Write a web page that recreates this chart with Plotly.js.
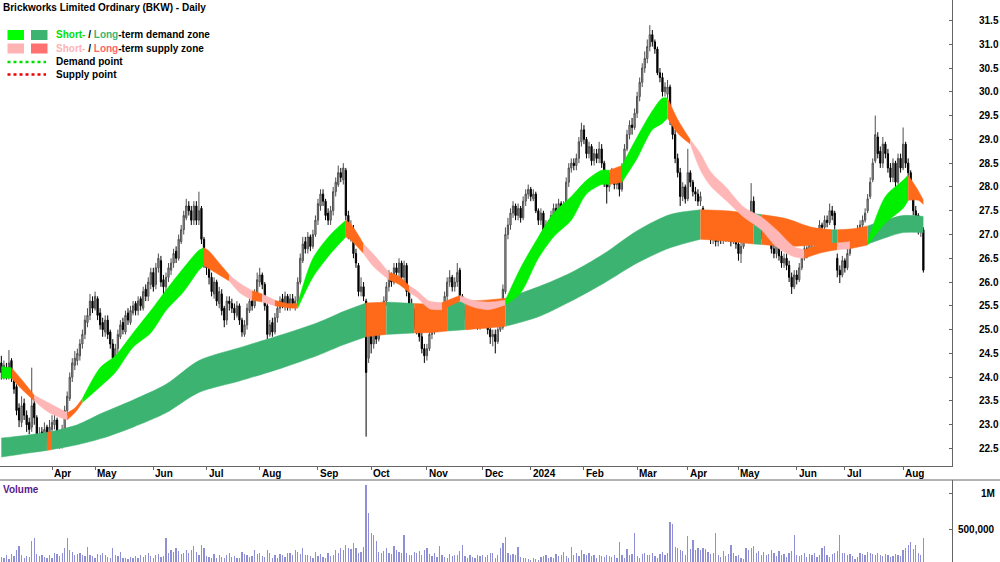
<!DOCTYPE html>
<html><head><meta charset="utf-8">
<script src="https://cdn.plot.ly/plotly-3.0.1.min.js"></script>
<style>html,body{margin:0;padding:0;background:#fff}#chart{width:1000px;height:562px}</style>
</head><body><div id="chart"></div>
<script>
const chartTitle = 'Brickworks Limited Ordinary (BKW) - Daily';
// month labels and the trading-day index of the first session of each month
const monthLabels = ['Apr','May','Jun','Jul','Aug','Sep','Oct','Nov','Dec','2024','Feb','Mar','Apr','May','Jun','Jul','Aug'];
const monthIdx = [20,37,60,81,102,125,146,168,190,209,230,251,271,291,314,333,356];
const priceTicks = [22.5,23.0,23.5,24.0,24.5,25.0,25.5,26.0,26.5,27.0,27.5,28.0,28.5,29.0,29.5,30.0,30.5,31.0,31.5];
const volumeTicks = [500000, 1000000];
const volumeTickText = ['500,000', '1M'];

const open = [
24.30,24.05,24.20,24.05,24.35,24.00,23.80,23.35,23.05,23.45,
23.20,23.05,22.95,23.45,23.15,22.65,22.85,22.60,22.95,22.70,
22.90,23.00,23.10,22.75,22.55,22.90,23.30,23.55,24.00,24.25,
24.35,24.45,24.70,24.90,25.15,25.30,25.60,25.45,25.65,25.35,
25.15,24.95,25.20,24.95,24.70,24.35,24.60,24.85,25.15,24.95,
25.35,25.15,25.35,25.55,25.40,25.65,25.45,25.85,25.70,25.95,
26.20,25.95,26.30,26.45,26.05,25.90,26.10,26.25,26.40,26.65,
26.50,26.85,27.10,27.35,27.60,27.50,27.30,27.60,27.30,27.55,
26.90,26.45,26.30,26.10,25.75,26.00,25.55,25.75,25.45,25.20,
25.60,25.55,25.45,25.30,25.50,25.20,24.90,25.10,25.40,25.60,
25.50,25.75,26.00,26.15,25.95,25.50,24.90,25.15,24.95,25.25,
25.45,25.65,25.50,25.70,25.50,25.65,25.50,25.60,26.00,26.45,
26.85,26.70,26.95,26.75,27.00,27.30,27.60,27.85,27.70,27.45,
27.30,27.50,27.90,28.05,28.30,28.15,28.35,27.40,26.95,27.10,
26.60,26.35,25.80,25.90,25.60,24.40,25.00,24.70,25.10,24.80,
25.20,25.40,25.60,25.90,26.10,26.00,26.30,26.20,26.40,26.10,
26.35,25.80,25.50,25.40,25.10,25.00,24.85,24.60,24.45,24.60,
24.90,25.00,25.20,25.30,25.10,25.40,25.70,26.00,26.10,25.90,
26.00,26.25,25.70,25.30,25.40,25.10,25.30,25.20,25.35,25.10,
25.25,25.40,25.20,25.00,24.85,24.90,24.75,25.00,25.05,25.80,
27.00,27.20,27.45,27.60,27.40,27.55,27.35,27.70,27.85,27.95,
27.75,27.85,27.50,27.30,27.45,27.00,27.20,27.10,27.40,27.55,
27.45,27.65,27.50,27.65,28.10,28.40,28.50,28.45,28.60,28.95,
29.20,29.00,28.70,28.85,28.55,28.70,28.60,28.80,28.50,28.10,
28.00,28.20,28.30,28.05,28.20,27.95,28.40,28.80,29.10,29.30,
29.25,29.55,29.90,30.20,30.50,30.70,30.95,31.20,31.05,30.90,
30.40,30.30,30.00,29.95,30.10,29.40,29.10,28.60,28.30,27.80,
28.00,27.75,28.30,28.10,27.90,27.85,27.70,27.55,27.15,27.00,
27.10,26.90,27.05,26.85,27.00,26.90,27.10,26.95,27.00,26.85,
27.05,26.80,26.60,26.75,26.95,27.10,27.40,27.70,27.30,27.10,
27.20,27.00,27.15,26.95,26.90,26.70,26.60,26.80,26.55,26.40,
26.50,26.35,26.10,25.90,26.15,26.05,26.30,26.50,26.70,26.60,
26.85,26.80,26.95,27.00,27.20,27.15,27.30,27.25,27.50,27.45,
26.50,26.25,26.15,26.45,26.30,26.60,26.85,27.00,26.95,27.10,
27.20,27.30,27.50,27.80,28.15,28.55,29.05,28.75,28.50,28.90,
28.70,28.40,28.20,28.50,28.10,28.60,28.40,28.90,28.50,28.30,
27.90,27.50,27.40,27.05,27.10];
const high = [
24.45,24.35,24.30,24.57,24.40,24.10,23.85,23.45,23.60,23.55,
23.30,23.15,24.20,23.55,23.20,22.95,22.95,23.05,23.00,23.10,
23.20,23.25,23.15,22.85,23.00,23.40,23.70,24.10,24.40,24.55,
24.60,24.80,25.00,25.30,25.45,25.75,25.70,25.80,25.70,25.45,
25.25,25.30,25.30,25.00,24.80,24.70,25.00,25.20,25.25,25.40,
25.45,25.50,25.60,25.60,25.70,25.70,25.90,25.95,26.10,26.30,
26.30,26.40,26.60,26.55,26.15,26.20,26.40,26.50,26.70,26.75,
27.00,27.20,27.50,27.75,27.70,27.60,27.70,27.70,27.90,27.60,
26.95,26.55,26.40,26.20,26.10,26.05,25.90,25.85,25.50,25.70,
25.70,25.65,25.55,25.60,25.55,25.25,25.20,25.55,25.70,25.70,
25.85,26.20,26.30,26.20,26.00,25.55,25.20,25.25,25.35,25.55,
25.70,25.75,25.80,25.75,25.75,25.75,25.70,26.10,26.60,26.95,
26.95,27.05,27.00,27.10,27.40,27.75,27.95,27.95,27.75,27.55,
27.60,28.00,28.20,28.45,28.40,28.50,28.40,27.50,27.30,27.20,
26.70,26.40,26.10,26.00,25.65,25.20,25.30,25.30,25.20,25.30,
25.50,25.70,26.00,26.25,26.20,26.40,26.40,26.50,26.45,26.45,
26.40,25.85,25.65,25.45,25.20,25.10,24.95,24.70,24.70,25.00,
25.10,25.30,25.40,25.35,25.50,25.80,26.10,26.25,26.15,26.10,
26.40,26.30,25.75,25.50,25.45,25.40,25.40,25.45,25.40,25.35,
25.50,25.45,25.30,25.10,25.00,25.00,25.10,25.40,25.95,27.15,
27.35,27.55,27.70,27.65,27.65,27.60,27.80,27.95,28.05,28.00,
27.95,27.90,27.55,27.55,27.50,27.30,27.30,27.50,27.65,27.65,
27.75,27.70,27.70,28.20,28.50,28.60,28.60,28.70,29.05,29.35,
29.30,29.05,28.95,28.90,28.80,28.80,28.95,28.90,28.55,28.20,
28.30,28.40,28.35,28.30,28.25,28.50,28.90,29.20,29.40,29.45,
29.65,30.00,30.30,30.60,30.85,31.10,31.40,31.30,31.10,30.95,
30.50,30.40,30.20,30.25,30.15,29.50,29.20,28.70,28.40,28.10,
28.05,28.80,28.35,28.15,28.00,27.95,27.90,27.60,27.25,27.20,
27.20,27.15,27.10,27.10,27.05,27.20,27.15,27.10,27.05,27.15,
27.10,26.90,26.85,27.05,27.20,27.50,28.08,27.80,27.40,27.30,
27.30,27.25,27.20,27.05,26.95,26.80,26.90,26.85,26.65,26.60,
26.60,26.45,26.20,26.25,26.25,26.40,26.60,26.80,26.75,26.95,
26.95,27.05,27.10,27.30,27.25,27.40,27.40,27.65,27.60,27.50,
26.60,26.35,26.55,26.50,26.70,26.95,27.05,27.10,27.20,27.30,
27.40,27.55,27.85,28.20,28.60,29.50,29.15,28.85,29.05,28.95,
28.80,28.50,28.60,28.55,28.70,28.70,29.25,28.95,28.60,28.35,
27.95,27.60,27.45,27.25,27.15];
const low = [
23.95,23.95,23.95,23.95,23.90,23.65,23.20,22.95,22.95,23.10,
22.85,22.80,22.85,23.00,22.60,22.55,22.50,22.55,22.60,22.60,
22.80,22.90,22.60,22.50,22.50,22.85,23.20,23.50,23.90,24.15,
24.25,24.35,24.60,24.80,25.05,25.20,25.35,25.40,25.20,25.00,
24.85,24.85,24.80,24.60,24.30,24.30,24.50,24.80,24.90,24.90,
25.10,25.10,25.30,25.30,25.30,25.40,25.40,25.60,25.60,25.85,
25.80,25.85,26.20,25.90,25.75,25.80,26.00,26.15,26.30,26.40,
26.45,26.80,27.00,27.30,27.40,27.20,27.20,27.20,27.20,26.80,
26.30,26.15,25.95,25.70,25.65,25.50,25.45,25.30,25.05,25.10,
25.40,25.35,25.20,25.25,25.10,24.85,24.85,25.00,25.35,25.40,
25.45,25.70,25.90,25.85,25.40,24.80,24.85,24.85,24.90,25.15,
25.35,25.45,25.40,25.40,25.40,25.45,25.40,25.50,25.95,26.40,
26.60,26.60,26.65,26.70,26.95,27.20,27.50,27.60,27.30,27.20,
27.20,27.40,27.80,28.00,28.10,28.05,27.30,26.90,26.85,26.50,
26.30,25.70,25.70,25.60,22.75,24.30,24.50,24.60,24.70,24.75,
25.10,25.30,25.50,25.80,25.90,25.95,26.10,26.10,26.00,26.00,
25.70,25.40,25.30,25.00,24.90,24.75,24.50,24.30,24.35,24.55,
24.80,24.90,25.10,25.00,25.05,25.35,25.60,25.90,25.80,25.80,
25.90,25.60,25.20,25.20,25.00,25.00,25.10,25.10,25.00,25.00,
25.15,25.10,24.90,24.70,24.65,24.50,24.70,24.95,25.00,25.75,
26.90,27.10,27.35,27.30,27.30,27.25,27.30,27.60,27.75,27.70,
27.70,27.45,27.20,27.20,26.85,26.95,27.00,27.05,27.35,27.35,
27.40,27.40,27.40,27.60,28.00,28.30,28.35,28.35,28.50,28.85,
28.90,28.60,28.60,28.45,28.45,28.50,28.50,28.40,28.00,27.65,
27.90,28.10,27.95,27.95,27.80,27.90,28.35,28.75,29.00,29.10,
29.20,29.45,29.80,30.10,30.40,30.60,30.85,30.95,30.80,30.35,
30.20,29.90,29.90,29.85,29.30,29.00,28.50,28.20,27.60,27.70,
27.65,27.70,28.00,27.80,27.70,27.60,27.60,27.05,26.90,26.90,
26.80,26.80,26.75,26.75,26.80,26.80,26.85,26.85,26.75,26.80,
26.70,26.45,26.40,26.70,26.90,27.05,27.30,27.20,27.00,27.00,
26.90,26.95,26.85,26.80,26.60,26.50,26.50,26.45,26.30,26.30,
26.25,26.00,25.75,25.85,25.95,26.00,26.25,26.45,26.50,26.55,
26.70,26.70,26.85,26.95,27.05,27.05,27.15,27.20,27.30,27.10,
26.10,25.98,26.10,26.20,26.25,26.55,26.80,26.85,26.90,27.00,
27.10,27.25,27.45,27.75,28.10,28.50,28.60,28.40,28.40,28.60,
28.30,28.10,28.10,28.00,28.05,28.30,28.35,28.40,28.20,27.80,
27.40,27.20,27.00,26.95,26.20];
const close = [
24.10,24.25,24.05,24.30,24.00,23.75,23.30,23.10,23.40,23.20,
23.00,22.90,23.40,23.15,22.70,22.80,22.60,22.90,22.75,22.95,
23.05,23.10,22.70,22.60,22.90,23.30,23.60,24.00,24.30,24.40,
24.50,24.70,24.90,25.20,25.30,25.60,25.45,25.70,25.30,25.10,
25.00,25.20,24.90,24.70,24.40,24.60,24.90,25.10,25.00,25.30,
25.20,25.40,25.50,25.40,25.60,25.50,25.80,25.70,26.00,26.20,
25.90,26.30,26.50,26.00,25.90,26.10,26.30,26.40,26.60,26.50,
26.90,27.10,27.40,27.60,27.50,27.30,27.60,27.30,27.50,26.90,
26.40,26.30,26.10,25.80,26.00,25.60,25.80,25.40,25.20,25.60,
25.55,25.45,25.35,25.50,25.20,24.95,25.10,25.45,25.60,25.50,
25.75,26.05,26.15,25.95,25.50,24.90,25.10,24.95,25.25,25.45,
25.60,25.55,25.70,25.50,25.65,25.55,25.60,26.00,26.50,26.80,
26.70,26.95,26.75,27.00,27.30,27.65,27.85,27.70,27.40,27.30,
27.50,27.90,28.10,28.30,28.20,28.40,27.40,27.00,27.10,26.60,
26.40,25.80,25.90,25.70,24.10,25.00,24.70,25.10,24.80,25.20,
25.40,25.60,25.90,26.10,26.00,26.30,26.20,26.40,26.10,26.35,
25.80,25.50,25.40,25.10,25.00,24.85,24.60,24.45,24.60,24.90,
25.00,25.20,25.30,25.10,25.40,25.70,26.00,26.10,25.90,26.00,
26.20,25.70,25.30,25.40,25.10,25.30,25.20,25.35,25.10,25.25,
25.40,25.20,25.00,24.85,24.90,24.75,25.00,25.30,25.85,27.00,
27.20,27.45,27.60,27.40,27.55,27.35,27.70,27.85,27.95,27.80,
27.85,27.50,27.30,27.45,27.00,27.20,27.10,27.40,27.55,27.45,
27.65,27.50,27.60,28.10,28.40,28.50,28.45,28.60,28.95,29.20,
29.00,28.70,28.85,28.55,28.70,28.60,28.80,28.50,28.10,28.00,
28.20,28.30,28.05,28.20,27.95,28.40,28.80,29.10,29.30,29.25,
29.55,29.90,30.20,30.50,30.70,30.95,31.20,31.05,30.90,30.40,
30.30,30.00,30.10,30.10,29.40,29.10,28.60,28.30,27.80,28.00,
27.75,28.30,28.10,27.90,27.85,27.70,27.80,27.15,27.00,27.10,
26.90,27.05,26.85,27.00,26.90,27.10,26.95,27.00,26.85,27.05,
26.80,26.60,26.75,26.95,27.10,27.40,27.70,27.30,27.10,27.20,
27.00,27.15,26.95,26.90,26.70,26.60,26.80,26.55,26.40,26.50,
26.35,26.10,25.90,26.15,26.05,26.30,26.50,26.70,26.60,26.85,
26.80,26.95,27.00,27.20,27.15,27.30,27.25,27.50,27.40,27.20,
26.25,26.15,26.45,26.30,26.60,26.85,27.00,26.95,27.10,27.20,
27.30,27.45,27.75,28.10,28.50,29.10,28.70,28.50,28.90,28.70,
28.40,28.20,28.50,28.10,28.60,28.40,28.90,28.50,28.30,27.90,
27.50,27.40,27.10,27.15,26.25];
// volume in thousands of shares
const volumeK = [
110,90,130,80,150,120,200,260,140,90,
120,110,330,370,150,120,140,110,90,130,
100,160,150,120,170,230,380,210,180,140,
150,160,130,120,250,140,120,90,150,130,
170,130,110,100,240,140,120,180,100,90,
80,110,100,120,90,130,110,140,160,120,
100,130,150,110,120,380,170,210,180,240,
190,150,170,200,160,210,260,180,140,280,
230,120,110,90,150,100,130,110,90,140,
170,110,120,100,90,180,150,130,110,120,
210,150,160,120,110,200,170,90,130,100,
150,140,110,170,160,140,210,180,150,230,
130,140,120,100,180,120,150,110,90,170,
120,140,200,160,230,200,280,240,220,310,
230,160,180,250,1120,720,440,410,330,180,
160,190,230,170,150,260,200,180,170,420,
160,140,130,180,170,190,140,200,230,150,
120,160,110,260,140,110,90,150,120,130,
130,190,280,120,100,140,110,90,130,120,
140,110,130,170,160,100,130,230,300,390,
160,140,150,130,250,110,90,100,80,70,
90,80,70,110,120,130,100,110,90,150,
120,140,180,120,100,250,130,170,120,200,
150,130,160,120,140,100,130,120,110,130,
120,110,130,100,320,140,100,220,130,150,
450,120,100,150,160,130,140,170,120,100,
150,180,130,160,600,570,250,230,210,190,
130,400,220,340,200,240,200,230,220,180,
150,160,450,130,110,190,120,150,270,170,
120,140,100,80,230,210,240,260,160,190,
140,180,130,150,200,160,120,190,130,150,
110,170,190,410,140,120,130,160,110,150,
130,170,110,130,240,260,140,110,150,170,
190,420,170,160,140,150,120,80,110,170,
150,140,180,170,150,130,160,140,120,150,
130,110,120,150,140,120,200,230,270,320,
220,280,170,130,370];

// long-term zone: points (trading-day index), band edges and state of the following stretch (D demand, S supply)
const ltIdx   = [0,10,18,20,30,40,52,65,78,94,110,125,135,144,152,163,170,176,183,191,199,212,225,238,251,264,276,286,297,300,310,320,328,330,336,342,350,356,364];
const ltUpper = [22.72,22.78,22.84,22.86,23.00,23.25,23.52,23.85,24.35,24.62,24.88,25.15,25.38,25.56,25.58,25.55,25.54,25.56,25.60,25.62,25.66,25.90,26.20,26.60,27.08,27.42,27.52,27.50,27.44,27.42,27.33,27.15,27.10,27.10,27.12,27.18,27.32,27.40,27.38];
const ltLower = [22.32,22.40,22.46,22.48,22.58,22.72,22.95,23.25,23.68,23.92,24.18,24.46,24.68,24.85,24.90,24.93,24.94,24.97,25.00,25.03,25.07,25.27,25.60,25.98,26.40,26.72,26.90,26.86,26.80,26.79,26.75,26.77,26.76,26.75,26.76,26.80,26.95,27.04,27.04];
const ltState = ['D','D','S','D','D','D','D','D','D','D','D','D','D','S','D','S','S','D','S','S','D','D','D','D','D','D','S','S','D','S','S','S','D','S','S','D','D','D',''];

// short-term zone: D demand, T turning, S supply
const stIdx   = [0,4,8,13,19,26,29,32,39,45,52,59,65,72,78,80,82,86,90,94,99,103,108,113,117,123,130,136,138,143,147,153,157,161,164,169,174,181,186,192,199,205,212,218,225,231,237,240,245,251,257,261,263,267,272,276,280,286,293,300,306,313,317,324,330,335,342,349,356,358,362,364];
const stUpper = [24.22,24.20,23.95,23.62,23.45,23.25,23.35,23.55,24.20,24.45,24.93,25.40,25.83,26.30,26.67,26.72,26.65,26.40,26.15,25.98,25.82,25.75,25.62,25.55,25.55,26.50,27.00,27.30,27.22,26.80,26.58,26.20,26.12,25.92,25.82,25.60,25.57,25.72,25.62,25.58,25.62,26.30,26.95,27.45,27.80,28.14,28.35,28.35,28.45,29.05,29.60,29.87,29.87,29.42,28.99,28.70,28.32,28.00,27.58,27.37,27.10,26.74,26.68,26.80,26.82,26.85,26.85,27.80,28.14,28.25,27.92,27.72];
const stLower = [23.98,23.98,23.75,23.50,23.25,23.10,23.25,23.47,23.80,24.10,24.63,24.93,25.40,25.80,26.25,26.35,26.28,26.15,26.02,25.78,25.62,25.58,25.50,25.46,25.45,26.10,26.60,26.95,26.88,26.60,26.32,26.05,25.95,25.78,25.68,25.44,25.42,25.60,25.48,25.42,25.52,25.77,26.50,26.95,27.30,27.85,28.05,28.05,28.10,28.60,29.20,29.34,29.45,29.13,28.90,28.35,28.02,27.72,27.37,27.10,26.74,26.53,26.50,26.62,26.68,26.70,26.78,27.24,27.55,27.72,27.72,27.63];
const stState = ['D','T','T','S','S','T','T','D','D','D','D','D','D','D','D','T','T','T','S','S','T','S','T','T','D','D','D','T','T','S','S','T','T','S','S','S','T','S','S','S','D','D','D','D','D','D','D','T','D','D','D','D','T','T','S','S','S','S','S','S','S','S','T','T','S','T','D','D','D','T','T',''];

const LT_COL = {D:'#3cb371', S:'#ff6a1a'};
const ST_COL = {D:'#00f000', T:'#ff6a1a', S:'#ffb6b6'};

function zoneTraces(xs, up, lo, state, pal){
  const out = [];
  let a = 0;
  while (a < xs.length - 1){
    let b = a + 1;
    while (b < xs.length - 1 && state[b] === state[a]) b++;
    const X = xs.slice(a, b + 1), U = up.slice(a, b + 1), L = lo.slice(a, b + 1);
    const c = pal[state[a]];
    out.push({type:'scatter', mode:'lines', x: X, y: L, line:{width:0.5, color:c, shape:'spline', smoothing:0.8},
      hoverinfo:'skip', showlegend:false, xaxis:'x', yaxis:'y'});
    out.push({type:'scatter', mode:'lines', x: X, y: U, fill:'tonexty', fillcolor:c,
      line:{width:0.5, color:c, shape:'spline', smoothing:0.8}, hoverinfo:'skip', showlegend:false, xaxis:'x', yaxis:'y'});
    a = b;
  }
  return out;
}

const N = close.length;
const idx = Array.from({length: N}, (_, i) => i);
const volume = volumeK.map(v => v * 1000);

const traces = [].concat(
  zoneTraces(ltIdx, ltUpper, ltLower, ltState, LT_COL),
  zoneTraces(stIdx, stUpper, stLower, stState, ST_COL),
  [{type:'candlestick', x: idx, open: open, high: high, low: low, close: close,
    increasing:{line:{color:'#4d4d4d', width:1}, fillcolor:'#b4b4b4'},
    decreasing:{line:{color:'#000000', width:1}, fillcolor:'#000000'},
    whiskerwidth:0, hoverinfo:'skip', showlegend:false, xaxis:'x', yaxis:'y'},
   {type:'bar', x: idx, y: volume, xaxis:'x', yaxis:'y2', width:0.5,
    marker:{color:'#8f8fd6', line:{width:0}}, hoverinfo:'skip', showlegend:false}]
);

const W = 952, H = 562;
const px = v => v / W;
const py = v => 1 - v / H;
const bold = {family:'Liberation Sans, Arial, sans-serif', size:10, weight:'bold', color:'#000'};

const shapes = [
  {type:'line', xref:'paper', yref:'paper', x0:0, x1:1000/W, y0:py(480), y1:py(480), line:{color:'#666', width:1}},
  {type:'rect', xref:'paper', yref:'paper', x0:px(7.5), x1:px(24), y0:py(40), y1:py(30), fillcolor:'#00ff00', line:{width:0}},
  {type:'rect', xref:'paper', yref:'paper', x0:px(31), x1:px(47.5), y0:py(40), y1:py(30), fillcolor:'#3cb371', line:{width:0}},
  {type:'rect', xref:'paper', yref:'paper', x0:px(7.5), x1:px(24), y0:py(53.5), y1:py(43.5), fillcolor:'#ffb3b3', line:{width:0}},
  {type:'rect', xref:'paper', yref:'paper', x0:px(31), x1:px(47.5), y0:py(53.5), y1:py(43.5), fillcolor:'#ff7070', line:{width:0}},
  {type:'line', xref:'paper', yref:'paper', x0:px(7.5), x1:px(46), y0:py(62), y1:py(62), line:{color:'#00e000', width:2.5, dash:'dot'}},
  {type:'line', xref:'paper', yref:'paper', x0:px(7.5), x1:px(46), y0:py(74.5), y1:py(74.5), line:{color:'#ee0000', width:2.5, dash:'dot'}}
];

const annotations = [
  {xref:'paper', yref:'paper', x:px(1), y:py(8), xanchor:'left', yanchor:'middle', showarrow:false, text:chartTitle, font:bold},
  {xref:'paper', yref:'paper', x:px(54), y:py(35), xanchor:'left', yanchor:'middle', showarrow:false, font:bold,
   text:'<span style="color:#00e000">Short-</span> / <span style="color:#3cb371">Long</span>-term demand zone'},
  {xref:'paper', yref:'paper', x:px(54), y:py(48.5), xanchor:'left', yanchor:'middle', showarrow:false, font:bold,
   text:'<span style="color:#ffb3b3">Short-</span> / <span style="color:#ff6666">Long</span>-term supply zone'},
  {xref:'paper', yref:'paper', x:px(54), y:py(62), xanchor:'left', yanchor:'middle', showarrow:false, font:bold, text:'Demand point'},
  {xref:'paper', yref:'paper', x:px(54), y:py(75), xanchor:'left', yanchor:'middle', showarrow:false, font:bold, text:'Supply point'},
  {xref:'paper', yref:'paper', x:px(1), y:py(489), xanchor:'left', yanchor:'middle', showarrow:false,
   font:{family:'Liberation Sans, Arial, sans-serif', size:10, weight:'bold', color:'#5a1a8c'}, text:'Volume'}
];
monthLabels.forEach((m, k) => annotations.push({xref:'x', yref:'paper', x: monthIdx[k], y: py(474), xanchor:'left', yanchor:'middle',
  showarrow:false, text:m, font:bold, xshift:0}));
volumeTicks.forEach((v, k) => annotations.push({xref:'paper', yref:'y2', x: 997/W, y: v, xanchor:'right', yanchor:'middle',
  showarrow:false, text: volumeTickText[k], font:bold}));

const layout = {
  width:1000, height:562, margin:{l:0, r:48, t:0, b:0}, paper_bgcolor:'#fff', plot_bgcolor:'#fff', showlegend:false,
  font:{family:'Liberation Sans, Arial, sans-serif', size:10, color:'#000'},
  xaxis:{range:[-0.53, 375.3], anchor:'y', showgrid:false, zeroline:false, showline:true, linecolor:'#666', linewidth:1,
    ticks:'outside', ticklen:3, tickcolor:'#666', tickvals: monthIdx, showticklabels:false, rangeslider:{visible:false}, fixedrange:true},
  yaxis:{domain:[1 - 466/H, 1], range:[22.133, 31.93], side:'right', anchor:'x', showgrid:false, zeroline:false, showline:true,
    linecolor:'#666', ticks:'inside', ticklen:3, tickcolor:'#666', tickvals: priceTicks, ticktext: priceTicks.map(v => v.toFixed(1)),
    tickfont: bold, ticklabelstandoff: 24},
  yaxis2:{domain:[0, 1 - 480/H], range:[38000, 1186000], side:'right', anchor:'x', showgrid:false, zeroline:false, showline:true,
    linecolor:'#666', ticks:'inside', ticklen:3, tickcolor:'#666', tickvals: volumeTicks, showticklabels:false},
  shapes: shapes, annotations: annotations, bargap:0
};

Plotly.newPlot('chart', traces, layout, {staticPlot:true, displayModeBar:false});
</script></body></html>
